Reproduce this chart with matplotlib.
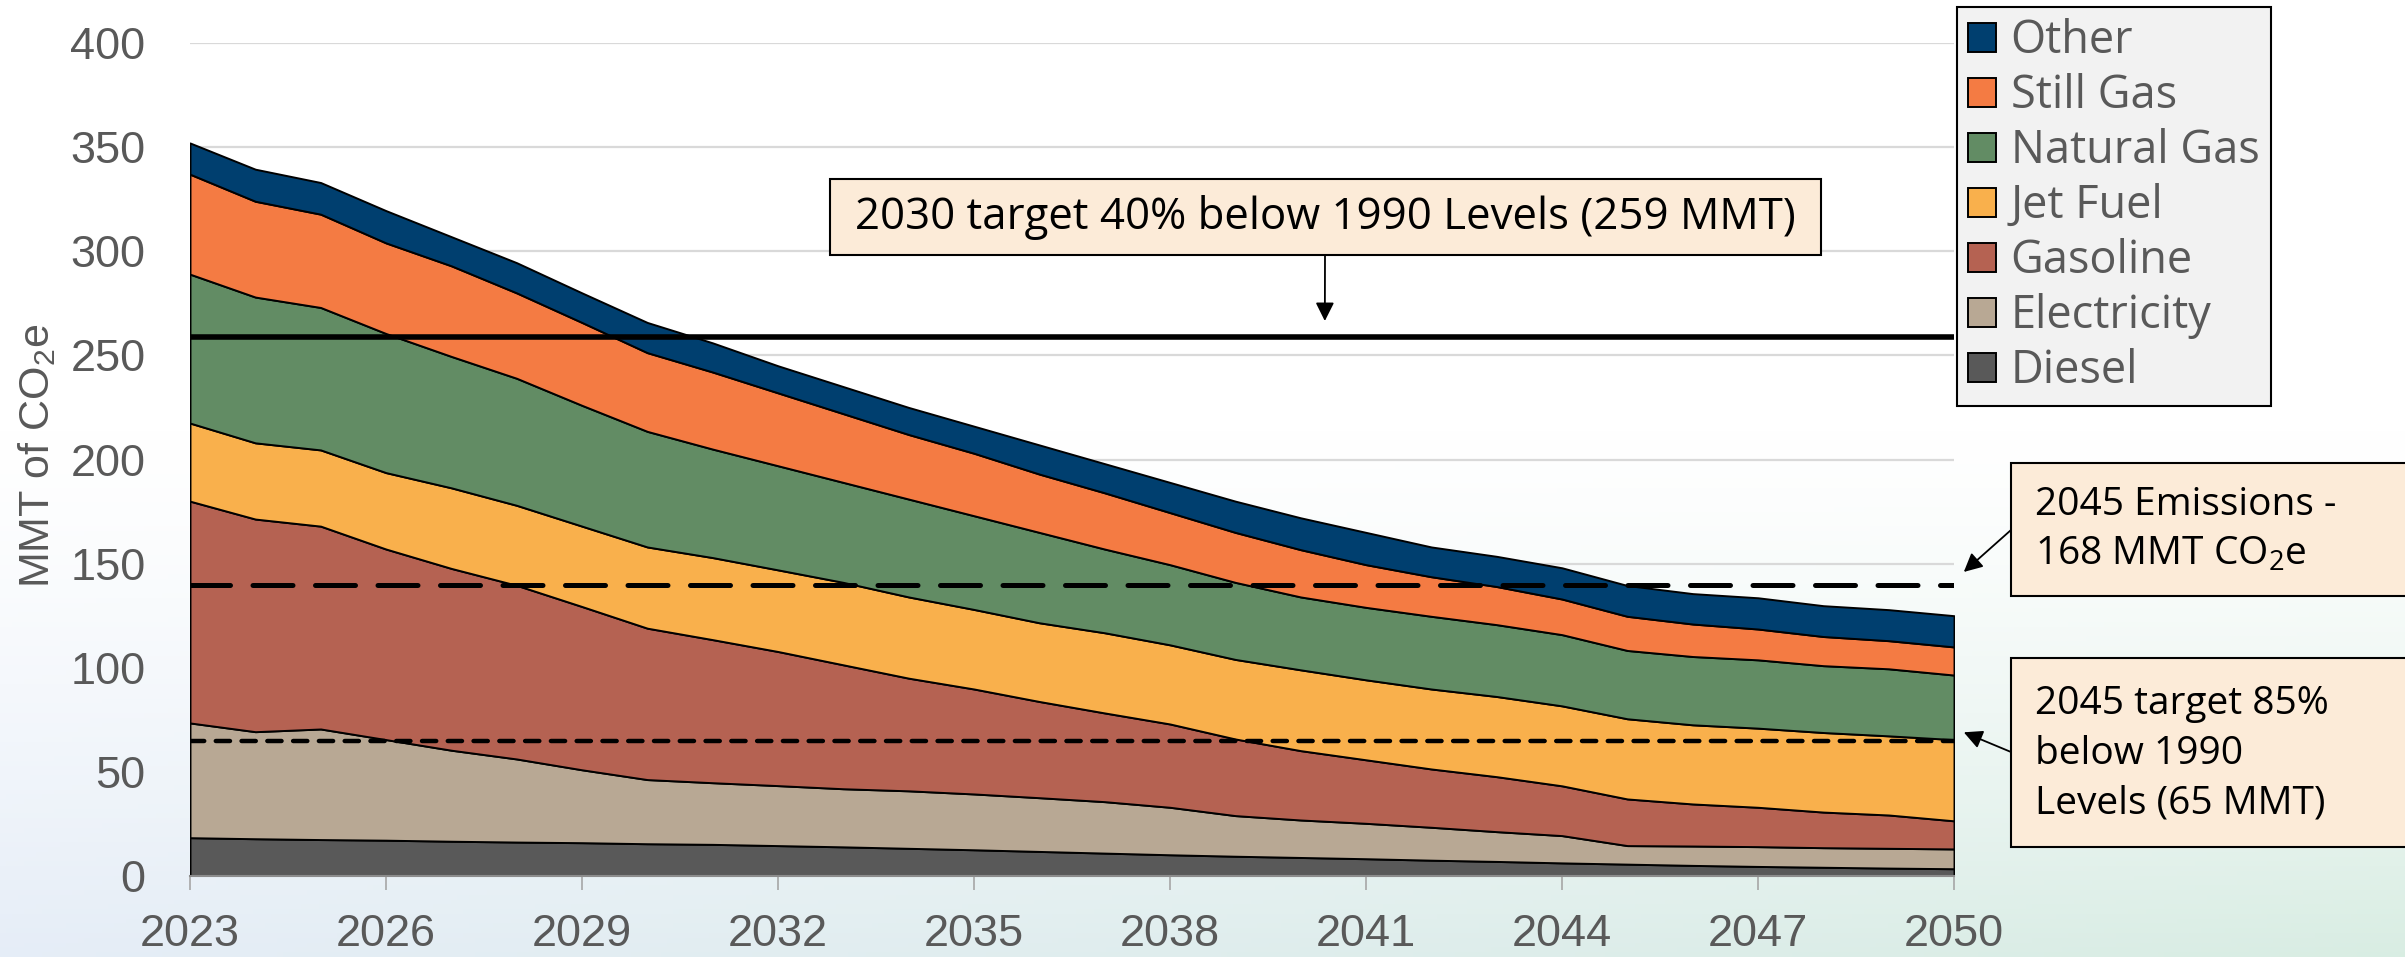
import numpy as np
import matplotlib
matplotlib.use("Agg")
import matplotlib.pyplot as plt
from matplotlib import font_manager
from matplotlib.patches import Rectangle

# fonts
installed = {f.name for f in font_manager.fontManager.ttflist}

def pick(*names):
    for n in names:
        if n in installed:
            return n
    return "DejaVu Sans"

tick_font = pick("Liberation Sans", "Arimo", "DejaVu Sans")
note_font = pick("Open Sans", "Noto Sans", "Lato", "DejaVu Sans")
plt.rcParams["mathtext.default"] = "regular"

# emissions by fuel, MMT CO2e
years = np.arange(2023, 2051)
diesel = [18.4, 17.9, 17.5, 17.2, 16.7, 16.3, 16.0, 15.5, 15.2, 14.6, 14.0, 13.3, 12.6, 11.8,
          11.0, 10.2, 9.5, 8.9, 8.3, 7.6, 7.0, 6.3, 5.7, 5.1, 4.6, 4.2, 3.8, 3.5]
electricity = [55.1, 51.4, 53.1, 48.3, 43.7, 39.9, 35.0, 30.8, 29.6, 28.8, 27.9, 27.6, 26.8, 25.8,
               24.7, 22.8, 19.5, 18.0, 17.0, 15.8, 14.3, 13.1, 8.9, 9.3, 9.5, 9.4, 9.5, 9.5]
gasoline = [106.5, 102.1, 97.4, 91.5, 87.3, 83.4, 78.4, 72.7, 68.7, 64.4, 59.5, 54.1, 50.4, 46.2,
            42.6, 40.0, 36.8, 33.3, 30.5, 28.0, 26.4, 23.9, 22.4, 20.2, 18.9, 17.1, 16.0, 13.5]
jet_fuel = [37.5, 36.6, 36.6, 36.7, 38.7, 38.4, 38.6, 39.0, 39.4, 39.2, 39.6, 39.0, 38.2, 37.8,
            38.5, 38.0, 38.2, 38.8, 38.4, 38.4, 38.5, 38.4, 38.5, 38.0, 38.0, 38.2, 38.0, 39.0]
natural_gas = [71.5, 70.0, 68.4, 66.8, 63.1, 61.0, 58.0, 55.5, 52.1, 50.0, 48.0, 47.0, 45.0, 43.4,
               40.2, 38.5, 37.0, 35.0, 34.8, 34.9, 34.5, 34.2, 32.8, 32.8, 32.8, 32.1, 32.2, 31.0]
still_gas = [48.0, 46.0, 44.8, 43.5, 43.5, 41.0, 39.8, 37.8, 37.0, 35.0, 33.0, 31.0, 30.0, 28.0,
             27.0, 25.0, 24.0, 22.7, 20.5, 19.0, 18.3, 17.1, 16.4, 15.6, 14.8, 14.0, 13.5, 13.5]
other = [15.0, 15.4, 15.2, 15.5, 14.0, 14.5, 14.2, 14.5, 14.0, 13.0, 13.0, 13.0, 13.0, 14.0,
         14.0, 14.5, 15.0, 15.3, 15.5, 14.3, 14.5, 15.0, 14.8, 14.6, 15.0, 14.8, 14.9, 15.0]

labels = ["Diesel", "Electricity", "Gasoline", "Jet Fuel", "Natural Gas", "Still Gas", "Other"]
colors = ["#595959", "#b8a894", "#b56252", "#f9b04c", "#628c64", "#f47b43", "#003f6f"]

target_2030 = 259
target_2045 = 65
series = [diesel, electricity, gasoline, jet_fuel, natural_gas, still_gas, other]
emissions_2045 = sum(s[list(years).index(2045)] for s in series)

W, H = 2405, 957
fig = plt.figure(figsize=(W / 100, H / 100), dpi=100)

def fx(px):
    return px / W

def fy(py):
    return 1 - py / H

# soft slide background
bg = fig.add_axes([0, 0, 1, 1], zorder=-10)
gx, gy = np.meshgrid(np.linspace(0, 1, 400), np.linspace(0, 1, 200))
fade = np.clip((gy - 0.45) / 0.55, 0, 1) ** 1.3
blue = np.array([0.90, 0.93, 0.97])
green = np.array([0.85, 0.93, 0.89])
tint = blue[None, None, :] * (1 - gx[..., None]) + green[None, None, :] * gx[..., None]
img = 1 - fade[..., None] * (1 - tint)
bg.imshow(img, aspect="auto", extent=[0, 1, 1, 0])
bg.set_xlim(0, 1)
bg.set_ylim(1, 0)
bg.axis("off")

ax = fig.add_axes([fx(190), 1 - 876 / H, fx(1954) - fx(190), (876 - 43) / H])
ax.patch.set_alpha(0)

polys = ax.stackplot(years, *series, labels=labels, colors=colors,
                     edgecolor="black", linewidth=1.4, zorder=2)

ax.axhline(target_2030, color="black", lw=4, zorder=4)
ax.axhline(emissions_2045, color="black", lw=3.6, dashes=(8, 4.5),
           dash_capstyle="round", zorder=4)
ax.axhline(target_2045, color="black", lw=3.2, dashes=(3.2, 2.6),
           dash_capstyle="round", zorder=4)

ax.set_xlim(2023, 2050)
ax.set_ylim(0, 400)
ax.set_xticks(np.arange(2023, 2051, 3))
ax.set_yticks(np.arange(0, 401, 50))
ax.yaxis.grid(True, color="#d9d9d9", lw=1.6)
ax.set_axisbelow(True)
for s in ["top", "right", "left"]:
    ax.spines[s].set_visible(False)
ax.spines["bottom"].set_color("#8c8c8c")
ax.spines["bottom"].set_linewidth(1.5)
ax.spines["bottom"].set_zorder(3)
ax.tick_params(axis="x", length=10, width=1.2, color="#a6a6a6", pad=17,
               labelsize=32.5, labelcolor="#595959")
ax.tick_params(axis="y", length=0, pad=32, labelsize=32.5, labelcolor="#595959")
for t in ax.get_xticklabels() + ax.get_yticklabels():
    t.set_fontfamily(tick_font)

fig.text(fx(37), fy(456), "MMT of CO$_2$e", rotation=90, ha="center", va="center",
         fontsize=31, color="#595959", family=tick_font)

handles = polys[::-1]
leg = fig.legend(handles, labels[::-1], loc="upper left",
                 bbox_to_anchor=(fx(1957), fy(7)), bbox_transform=fig.transFigure,
                 borderaxespad=0, frameon=True, fancybox=False, framealpha=1,
                 facecolor="#f2f2f2", edgecolor="black",
                 handlelength=0.62, handleheight=0.62, handletextpad=0.32,
                 borderpad=0.25, labelspacing=0.2,
                 prop={"family": note_font, "size": 32.5})
leg.get_frame().set_linewidth(1.5)
for t in leg.get_texts():
    t.set_color("#595959")

# annotation boxes
box_fc = "#fcebd8"

def box(x0, y0, x1, y1):
    fig.patches.append(Rectangle((fx(x0), fy(y1)), fx(x1) - fx(x0), fy(y0) - fy(y1),
                                 transform=fig.transFigure, facecolor=box_fc,
                                 edgecolor="black", lw=1.5, zorder=5))

box(830, 179, 1821, 255)
fig.text(fx(1325), fy(217), "2030 target 40% below 1990 Levels (259 MMT)",
         ha="center", va="center", fontsize=31.5, family=note_font, zorder=6)

box(2011, 463, 2430, 596)
fig.text(fx(2035), fy(530), "2045 Emissions -\n168 MMT CO$_2$e",
         ha="left", va="center", fontsize=28, family=note_font, linespacing=1.4, zorder=6)

box(2011, 658, 2430, 847)
fig.text(fx(2035), fy(754), "2045 target 85%\nbelow 1990\nLevels (65 MMT)",
         ha="left", va="center", fontsize=28, family=note_font, linespacing=1.4, zorder=6)

arrow = dict(arrowstyle="-|>", color="black", lw=1.3, mutation_scale=28,
             shrinkA=0, shrinkB=0)
ax.annotate("", xy=(2040.37, target_2030 + 7.5), xycoords="data",
            xytext=(fx(1325), fy(255)), textcoords="figure fraction",
            arrowprops=arrow, annotation_clip=False)
ax.annotate("", xy=(2050.15, emissions_2045 + 6.5), xycoords="data",
            xytext=(fx(2011), fy(530)), textcoords="figure fraction",
            arrowprops=arrow, annotation_clip=False)
ax.annotate("", xy=(2050.15, target_2045 + 4), xycoords="data",
            xytext=(fx(2011), fy(752)), textcoords="figure fraction",
            arrowprops=arrow, annotation_clip=False)

fig.savefig("out.png", dpi=100)
